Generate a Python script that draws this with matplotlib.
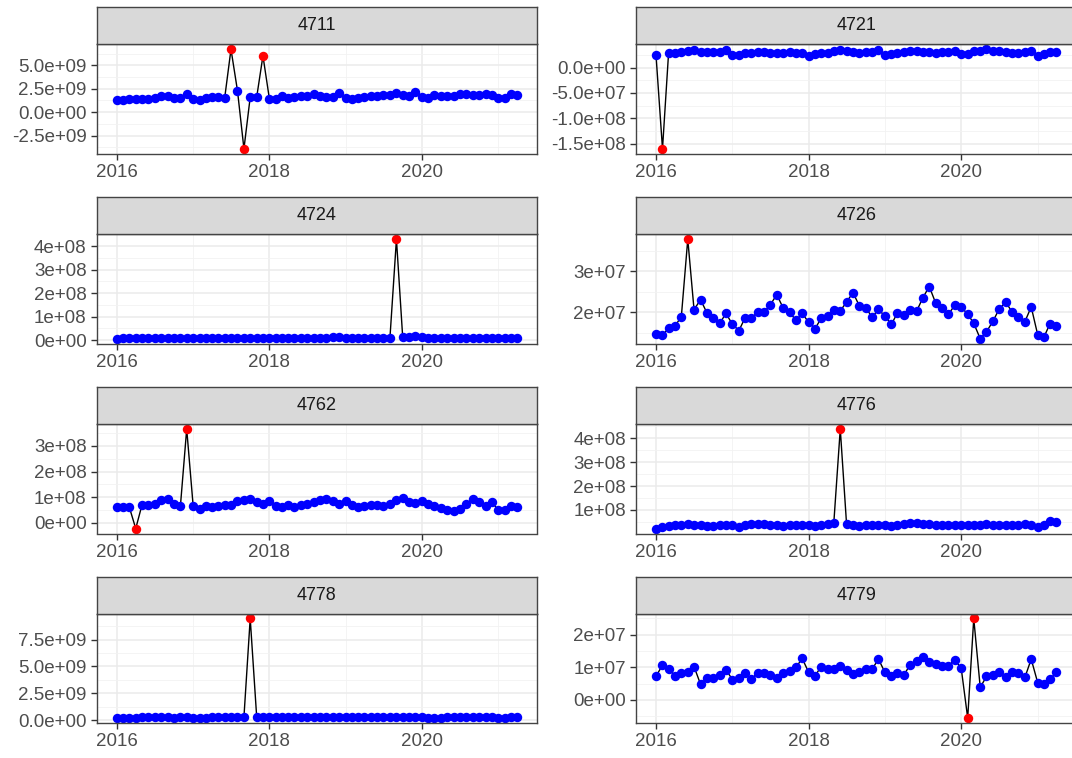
import numpy as np
import pandas as pd
import matplotlib
matplotlib.use('Agg')
import matplotlib.pyplot as plt
import matplotlib.dates as mdates
from matplotlib.ticker import MultipleLocator, FuncFormatter

plt.rcParams['font.family'] = ['Liberation Sans', 'DejaVu Sans']

# monthly observations, Jan 2016 .. Apr 2021
months = pd.date_range('2016-01-01', periods=64, freq='MS')

panel_ids = ['4711', '4721', '4724', '4726', '4762', '4776', '4778', '4779']

v4711 = np.array([1.30, 1.30, 1.40, 1.40, 1.40, 1.40, 1.50, 1.70, 1.70, 1.55, 1.50, 1.95,
                  1.40, 1.30, 1.50, 1.60, 1.60, 1.55, 6.70, 2.30, -3.90, 1.60, 1.60, 6.00,
                  1.40, 1.40, 1.70, 1.50, 1.60, 1.70, 1.70, 1.90, 1.70, 1.60, 1.60, 2.00,
                  1.50, 1.40, 1.50, 1.60, 1.70, 1.70, 1.80, 1.80, 2.00, 1.80, 1.70, 2.20,
                  1.60, 1.50, 1.80, 1.70, 1.70, 1.70, 1.90, 1.90, 1.80, 1.80, 1.90, 1.80,
                  1.50, 1.50, 1.90, 1.80]) * 1e9
v4721 = np.array([2.4, -16.0, 2.8, 2.9, 3.1, 3.2, 3.4, 3.1, 3.0, 3.0, 3.0, 3.4,
                  2.4, 2.5, 2.8, 2.9, 3.0, 3.0, 2.9, 2.8, 2.9, 3.0, 2.9, 2.9,
                  2.3, 2.6, 2.8, 2.9, 3.3, 3.4, 3.3, 3.0, 2.9, 3.0, 3.1, 3.4,
                  2.4, 2.6, 2.8, 3.0, 3.2, 3.2, 3.1, 3.0, 2.9, 3.0, 3.0, 3.3,
                  2.6, 2.7, 3.2, 3.3, 3.6, 3.3, 3.2, 3.0, 2.8, 2.9, 3.0, 3.3,
                  2.3, 2.6, 3.0, 3.1]) * 1e7
v4724 = np.array([6, 9, 8, 8, 7, 8, 8, 9, 7, 8, 8, 10,
                  8, 7, 9, 9, 10, 8, 9, 10, 9, 8, 8, 9,
                  8, 7, 9, 8, 10, 9, 10, 11, 10, 11, 12, 14,
                  9, 10, 10, 11, 10, 11, 10, 11, 430, 12, 13, 16,
                  13, 11, 10, 9, 9, 10, 9, 10, 9, 8, 9, 10,
                  9, 8, 8, 8]) * 1e6
v4726 = np.array([1.47, 1.43, 1.61, 1.67, 1.88, 3.79, 2.06, 2.31, 1.98, 1.85, 1.73, 1.97,
                  1.70, 1.55, 1.85, 1.85, 2.00, 2.00, 2.18, 2.43, 2.10, 2.00, 1.80, 1.97,
                  1.75, 1.60, 1.85, 1.90, 2.05, 2.03, 2.25, 2.48, 2.15, 2.10, 1.88, 2.07,
                  1.90, 1.70, 1.98, 1.93, 2.05, 2.02, 2.35, 2.63, 2.22, 2.10, 1.95, 2.17,
                  2.13, 1.95, 1.73, 1.35, 1.52, 1.78, 2.08, 2.25, 2.00, 1.88, 1.77, 2.13,
                  1.45, 1.40, 1.72, 1.65]) * 1e7
v4762 = np.array([0.60, 0.60, 0.62, -0.22, 0.70, 0.68, 0.75, 0.88, 0.95, 0.75, 0.67, 3.66,
                  0.65, 0.55, 0.65, 0.62, 0.65, 0.68, 0.70, 0.85, 0.90, 0.95, 0.80, 0.72,
                  0.85, 0.65, 0.60, 0.68, 0.62, 0.70, 0.72, 0.82, 0.90, 0.95, 0.85, 0.75,
                  0.85, 0.68, 0.62, 0.65, 0.68, 0.70, 0.65, 0.75, 0.90, 0.98, 0.80, 0.78,
                  0.85, 0.72, 0.65, 0.58, 0.52, 0.45, 0.55, 0.75, 0.92, 0.80, 0.65, 0.80,
                  0.50, 0.50, 0.65, 0.62]) * 1e8
v4776 = np.array([0.22, 0.28, 0.33, 0.38, 0.38, 0.40, 0.38, 0.35, 0.33, 0.32, 0.35, 0.38,
                  0.35, 0.30, 0.35, 0.42, 0.42, 0.40, 0.37, 0.35, 0.33, 0.35, 0.37, 0.35,
                  0.35, 0.33, 0.38, 0.40, 0.45, 4.39, 0.42, 0.35, 0.33, 0.35, 0.37, 0.38,
                  0.35, 0.32, 0.36, 0.40, 0.44, 0.45, 0.42, 0.40, 0.38, 0.35, 0.37, 0.36,
                  0.35, 0.37, 0.38, 0.35, 0.40, 0.38, 0.36, 0.35, 0.37, 0.38, 0.40, 0.36,
                  0.30, 0.38, 0.55, 0.48]) * 1e8
v4778 = np.array([0.20, 0.22, 0.22, 0.24, 0.25, 0.26, 0.30, 0.26, 0.25, 0.24, 0.26, 0.30,
                  0.24, 0.22, 0.24, 0.26, 0.28, 0.30, 0.27, 0.28, 0.30, 9.46, 0.30, 0.32,
                  0.28, 0.25, 0.30, 0.26, 0.30, 0.28, 0.30, 0.30, 0.29, 0.30, 0.28, 0.27,
                  0.25, 0.28, 0.30, 0.30, 0.30, 0.29, 0.30, 0.31, 0.30, 0.29, 0.30, 0.30,
                  0.26, 0.24, 0.22, 0.22, 0.25, 0.28, 0.30, 0.29, 0.30, 0.31, 0.30, 0.28,
                  0.24, 0.24, 0.26, 0.30]) * 1e9
v4779 = np.array([0.72, 1.07, 0.95, 0.74, 0.81, 0.84, 1.02, 0.48, 0.66, 0.66, 0.76, 0.92,
                  0.62, 0.66, 0.82, 0.64, 0.82, 0.82, 0.76, 0.67, 0.81, 0.89, 1.00, 1.27,
                  0.84, 0.74, 1.02, 0.95, 0.95, 1.05, 0.92, 0.79, 0.84, 0.96, 0.95, 1.25,
                  0.84, 0.72, 0.82, 0.76, 1.07, 1.20, 1.33, 1.17, 1.10, 1.05, 1.05, 1.23,
                  0.97, -0.56, 2.50, 0.38, 0.72, 0.76, 0.86, 0.69, 0.86, 0.81, 0.69, 1.25,
                  0.53, 0.48, 0.64, 0.84]) * 1e7

# indices of the flagged (red) months
out_4711 = [18, 20, 23]
out_4721 = [1]
out_4724 = [44]
out_4726 = [5]
out_4762 = [3, 11]
out_4776 = [29]
out_4778 = [21]
out_4779 = [49, 50]

# y tick step and decimals of the scientific labels
y_steps = [2.5e9, 5e7, 1e8, 1e7, 1e8, 1e8, 2.5e9, 1e7]
y_decimals = [1, 1, 0, 0, 0, 0, 1, 0]

series = [v4711, v4721, v4724, v4726, v4762, v4776, v4778, v4779]
outliers = [out_4711, out_4721, out_4724, out_4726, out_4762, out_4776, out_4778, out_4779]

W, H = 1072, 758
fig = plt.figure(figsize=(W / 100, H / 100), dpi=100)

col_left = [96.7, 636.0]
plot_w = 440.5
plot_tops = [44.3, 234.2, 424.0, 613.5]
plot_h = 109.5
strip_h = 37.0

border = '#444444'

for k, pid in enumerate(panel_ids):
    r, c = divmod(k, 2)
    left = col_left[c] / W
    bottom = (H - plot_tops[r] - plot_h) / H
    ax = fig.add_axes([left, bottom, plot_w / W, plot_h / H])
    sax = fig.add_axes([left, (H - plot_tops[r]) / H, plot_w / W, strip_h / H])

    vals = series[k]
    ax.plot(months, vals, color='black', lw=1.0, zorder=2)
    mask = np.zeros(len(vals), dtype=bool)
    mask[outliers[k]] = True
    ax.plot(months[~mask], vals[~mask], 'o', color='#0000FF', ms=6.8, mec='none', zorder=3)
    ax.plot(months[mask], vals[mask], 'o', color='#FF0000', ms=6.8, mec='none', zorder=4)
    ax.margins(x=0.05, y=0.05)

    ax.xaxis.set_major_locator(mdates.YearLocator(2))
    ax.xaxis.set_minor_locator(mdates.YearLocator(1))
    ax.xaxis.set_major_formatter(mdates.DateFormatter('%Y'))
    step = y_steps[k]
    ax.yaxis.set_major_locator(MultipleLocator(step))
    ax.yaxis.set_minor_locator(MultipleLocator(step / 2))
    fmt = '{:.%de}' % y_decimals[k]
    ax.yaxis.set_major_formatter(FuncFormatter(lambda v, p, f=fmt: f.format(0 if abs(v) < 1 else v)))

    ax.set_axisbelow(True)
    ax.grid(True, which='major', color='#EBEBEB', lw=1.1)
    ax.grid(True, which='minor', color='#F2F2F2', lw=0.6)
    ax.tick_params(which='major', length=4.3, width=1.0, color='#333333',
                   labelcolor='#4D4D4D', labelsize=13.5, pad=3.0)
    ax.tick_params(which='minor', length=0)
    for sp in ax.spines.values():
        sp.set_color(border)
        sp.set_linewidth(1.0)
        sp.set_zorder(5)

    sax.set_facecolor('#D9D9D9')
    sax.set_xticks([])
    sax.set_yticks([])
    for sp in sax.spines.values():
        sp.set_color(border)
        sp.set_linewidth(1.0)
    sax.text(0.5, 0.5, pid, ha='center', va='center', fontsize=13,
             color='#1A1A1A', transform=sax.transAxes)

fig.savefig('out.png', dpi=100)
